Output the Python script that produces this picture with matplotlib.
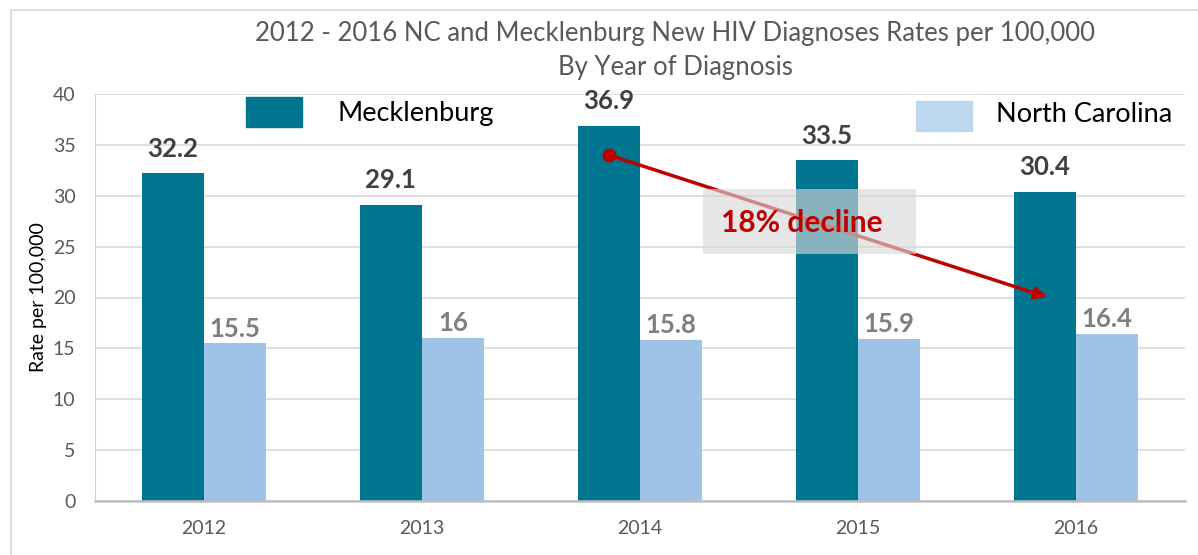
import numpy as np
import matplotlib.pyplot as plt
from matplotlib.patches import Rectangle

# Dati
years = ['2012', '2013', '2014', '2015', '2016']
mecklenburg = [32.2, 29.1, 36.9, 33.5, 30.4]
north_carolina = [15.5, 16, 15.8, 15.9, 16.4]
nc_labels = ['15.5', '16', '15.8', '15.9', '16.4']

plt.rcParams['font.family'] = ['Lato', 'DejaVu Sans']

fig = plt.figure(figsize=(11.98, 5.55), dpi=100)
ax = fig.add_axes([95 / 1198, 1 - 501 / 555, 1090 / 1198, 407 / 555])

x = np.arange(len(years))
w = 0.285
meck_col = '#00758F'
nc_col = '#9DC3E6'
ax.bar(x - w / 2, mecklenburg, w, color=meck_col, zorder=2)
ax.bar(x + w / 2, north_carolina, w, color=nc_col, zorder=2)

for i in range(len(years)):
    ax.annotate(f'{mecklenburg[i]}', (x[i] - w / 2, mecklenburg[i]), xytext=(0, 9),
                textcoords='offset points', ha='center', va='bottom',
                fontsize=18.5, fontweight='bold', color='#404040')
    ax.annotate(nc_labels[i], (x[i] + w / 2, north_carolina[i]), xytext=(0, 2),
                textcoords='offset points', ha='center', va='bottom',
                fontsize=18.5, fontweight='bold', color='#7F7F7F')

ax.set_xlim(-0.5, 4.5)
ax.set_ylim(0, 40)
ax.set_yticks(range(0, 41, 5))
ax.set_xticks(x)
ax.set_xticklabels(years)
ax.tick_params(axis='both', length=0, labelsize=14, labelcolor='#595959')
ax.tick_params(axis='x', pad=14)
ax.tick_params(axis='y', pad=14)
ax.grid(axis='y', color='#D9D9D9', linewidth=1.2, zorder=0)
ax.set_axisbelow(True)
for s in ['top', 'right']:
    ax.spines[s].set_visible(False)
ax.spines['left'].set_color('#D0D0D0')
ax.spines['bottom'].set_color('#BFBFBF')
ax.spines['bottom'].set_linewidth(1.8)
ax.set_ylabel('Rate per 100,000', fontsize=14, labelpad=4)

# freccia del calo
ax.annotate('', xy=(3.88, 19.95), xytext=(2.0 - w / 2, 34.0),
            arrowprops=dict(arrowstyle='-|>', color='#C00000', lw=2.5, mutation_scale=18),
            zorder=4)
ax.plot(2.0 - w / 2, 34.0, 'o', color='#C00000', markersize=9, zorder=5)
ax.add_patch(Rectangle((2.29, 24.3), 0.975, 6.4, facecolor='#D8D8D8', alpha=0.63,
                       edgecolor='none', zorder=6))
ax.text(2.74, 27.3, '18% decline', ha='center', va='center', fontsize=21.5,
        fontweight='bold', color='#C00000', zorder=7)

# legenda
fig.patches.append(Rectangle((246 / 1198, 1 - 127 / 555), 56 / 1198, 30 / 555,
                             transform=fig.transFigure, color=meck_col))
fig.text(337 / 1198, 1 - 114 / 555, 'Mecklenburg', fontsize=19.5, va='center', color='black')
fig.patches.append(Rectangle((916 / 1198, 1 - 131 / 555), 56 / 1198, 30 / 555,
                             transform=fig.transFigure, color='#BDD7EE'))
fig.text(996 / 1198, 1 - 115 / 555, 'North Carolina', fontsize=19.5, va='center', color='black')

fig.text(675 / 1198, 1 - 33 / 555, '2012 - 2016 NC and Mecklenburg New HIV Diagnoses Rates per 100,000',
         ha='center', va='center', fontsize=18.5, color='#595959')
fig.text(675 / 1198, 1 - 68 / 555, 'By Year of Diagnosis',
         ha='center', va='center', fontsize=18.5, color='#595959')

# bordo
fig.patches.append(Rectangle((11 / 1198, -0.1), 1.2, 1 - 10 / 555 + 0.1,
                             transform=fig.transFigure, fill=False, edgecolor='#D9D9D9', lw=1.2))

fig.savefig('out.png', dpi=100)
